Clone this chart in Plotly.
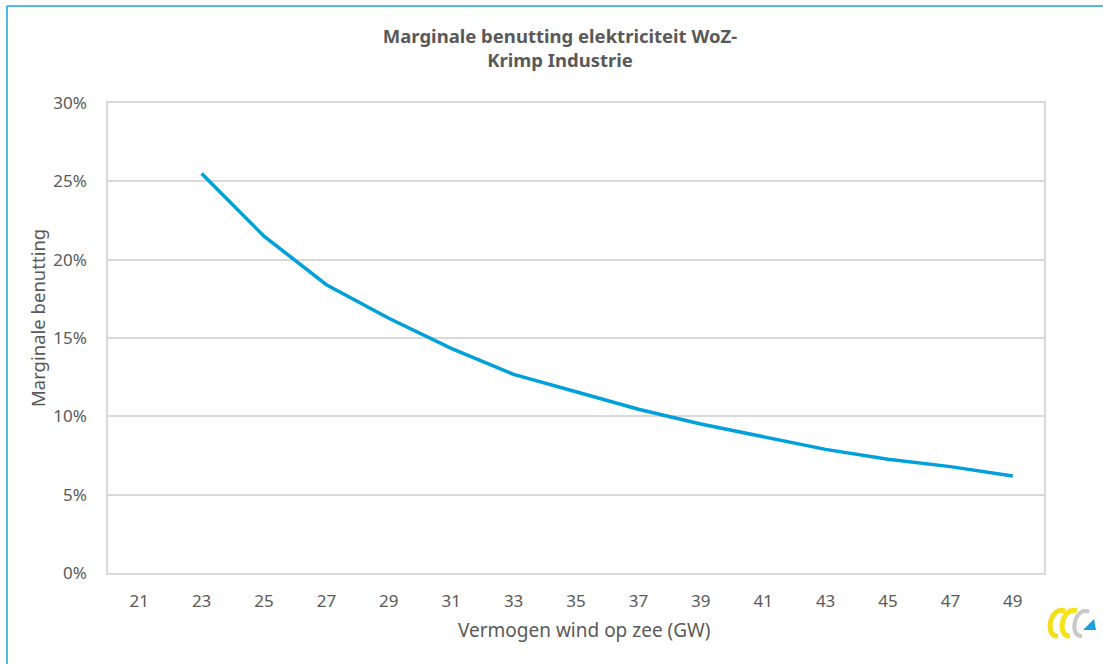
import plotly.graph_objects as go

# Offshore wind capacity (GW) and marginal utilisation of its electricity
capacity_gw = ["21", "23", "25", "27", "29", "31", "33", "35", "37", "39", "41", "43", "45", "47", "49"]
marginal_use = [None, 0.255, 0.215, 0.184, 0.1626, 0.1434, 0.1268, 0.1157, 0.1045, 0.0951,
                0.087, 0.0789, 0.0726, 0.0679, 0.0619]
y_ticks = [0, 0.05, 0.10, 0.15, 0.20, 0.25, 0.30]

W, H = 1103, 664
L, R, T, B = 108, 1044, 103, 573
FONT = "Noto Sans"
GREY_TEXT = "#595959"
GRID = "#D9D9D9"


def px(x):
    return (x - L) / (R - L)


def py(y):
    return (B - y) / (B - T)


def path(points, close=False):
    d = "M " + " L ".join(f"{px(x):.5f},{py(y):.5f}" for x, y in points)
    return d + (" Z" if close else "")


def curve(p0, c1, c2, p1):
    return (f"M {px(p0[0]):.5f},{py(p0[1]):.5f} C {px(c1[0]):.5f},{py(c1[1]):.5f} "
            f"{px(c2[0]):.5f},{py(c2[1]):.5f} {px(p1[0]):.5f},{py(p1[1]):.5f}")


fig = go.Figure()
fig.add_trace(go.Scatter(
    x=capacity_gw, y=marginal_use, mode="lines",
    line=dict(color="#00A0DC", width=3.5),
    connectgaps=False, showlegend=False,
    hovertemplate="%{x} GW: %{y:.1%}<extra></extra>",
))

shapes = [
    # outer frame of the chart object
    dict(type="line", xref="paper", yref="paper", x0=px(7), x1=px(1103), y0=py(6), y1=py(6),
         line=dict(color="#1BA1E2", width=1.5)),
    dict(type="line", xref="paper", yref="paper", x0=px(7), x1=px(7), y0=py(6), y1=py(664),
         line=dict(color="#1BA1E2", width=1.5)),
    # logo: two yellow ribbons, a grey ribbon and a blue triangle
    dict(type="path", xref="paper", yref="paper",
         path=curve((1065, 611), (1050, 605), (1044, 637), (1058, 636)),
         line=dict(color="#F2DE1B", width=5)),
    dict(type="path", xref="paper", yref="paper",
         path=curve((1077, 611), (1062, 605), (1056, 637), (1070, 636)),
         line=dict(color="#F5E31A", width=5)),
    dict(type="path", xref="paper", yref="paper",
         path=curve((1089, 612), (1075, 605), (1068, 637), (1082, 636)),
         line=dict(color="#C8C8C8", width=4)),
    dict(type="path", xref="paper", yref="paper",
         path=path([(1083, 630), (1096, 630), (1094, 619)], close=True),
         fillcolor="#1BA1E2", line=dict(width=0)),
]

annotations = [
    dict(text="Marginale benutting", xref="paper", yref="paper", x=px(37), y=py(318),
         xanchor="center", yanchor="middle", textangle=-90, showarrow=False,
         font=dict(family=FONT, size=18.5, color=GREY_TEXT)),
    dict(text="Vermogen wind op zee (GW)", xref="paper", yref="paper", x=px(584), y=py(630),
         xanchor="center", yanchor="middle", showarrow=False,
         font=dict(family=FONT, size=19, color=GREY_TEXT)),
]

fig.update_layout(
    width=W, height=H,
    margin=dict(l=L, r=W - R, t=T, b=H - B),
    paper_bgcolor="white", plot_bgcolor="white",
    font=dict(family=FONT, size=16, color=GREY_TEXT),
    title=dict(text="<b>Marginale benutting elektriciteit WoZ-<br>Krimp Industrie</b>",
               x=560 / W, xref="container", xanchor="center",
               y=1 - 43 / H, yref="container", yanchor="middle",
               font=dict(family=FONT, size=18.5, color=GREY_TEXT)),
    xaxis=dict(type="category", categoryorder="array", categoryarray=capacity_gw,
               range=[-0.5, len(capacity_gw) - 0.5],
               showgrid=False, showline=True, mirror=True, linecolor=GRID, linewidth=1.5,
               ticks="outside", ticklen=12, tickcolor="rgba(0,0,0,0)",
               tickfont=dict(family=FONT, size=17, color=GREY_TEXT), zeroline=False),
    yaxis=dict(range=[0, 0.30], tickvals=y_ticks, tickformat=".0%",
               showgrid=True, gridcolor=GRID, gridwidth=1.5,
               showline=True, mirror=True, linecolor=GRID, linewidth=1.5,
               ticks="outside", ticklen=16, tickcolor="rgba(0,0,0,0)",
               tickfont=dict(family=FONT, size=17, color=GREY_TEXT), zeroline=False),
    shapes=shapes,
    annotations=annotations,
)

fig.write_html("out.html")
